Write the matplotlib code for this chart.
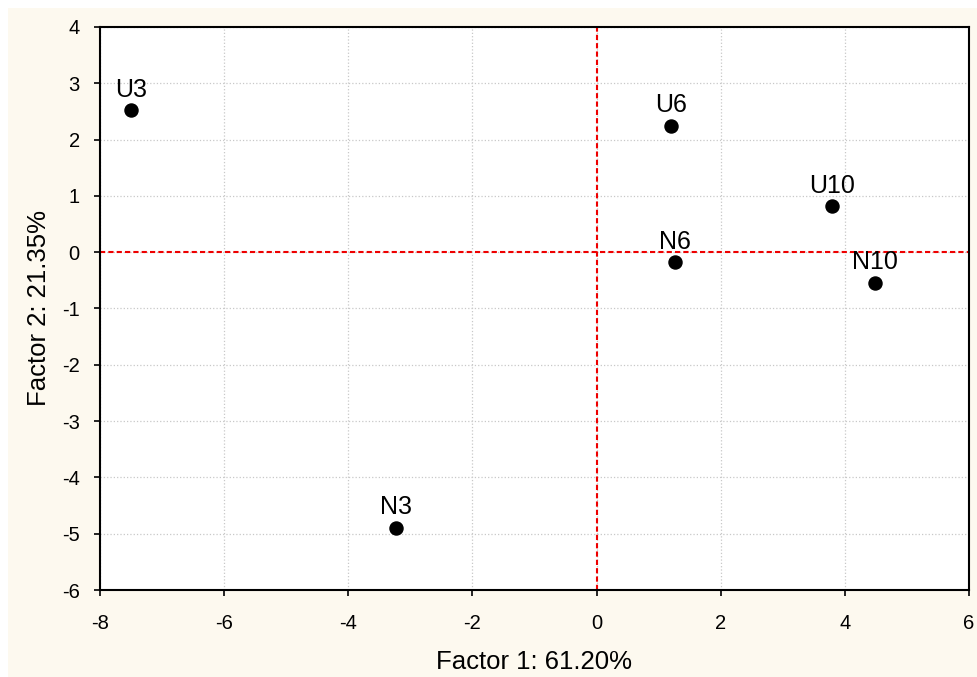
import matplotlib.pyplot as plt
from matplotlib.patches import Rectangle

plt.rcParams['font.family'] = ['Liberation Sans', 'DejaVu Sans']
plt.rcParams['axes.unicode_minus'] = False

# Sample scores on the first two factors
labels = ['U3', 'N3', 'U6', 'N6', 'U10', 'N10']
factor1 = [-7.50, -3.23, 1.20, 1.26, 3.80, 4.49]
factor2 = [2.53, -4.89, 2.25, -0.18, 0.82, -0.54]

x_ticks = [-8, -6, -4, -2, 0, 2, 4, 6]
y_ticks = [-6, -5, -4, -3, -2, -1, 0, 1, 2, 3, 4]

fig = plt.figure(figsize=(9.77, 6.77), dpi=100)
fig.patch.set_facecolor('white')
fig.patches.append(Rectangle((8 / 977, 0), 1, 1 - 8 / 677, transform=fig.transFigure,
                             facecolor='#FDF9EF', edgecolor='none', zorder=-10))

ax = fig.add_axes([100 / 977, 1 - 590 / 677, 869 / 977, 563 / 677])
ax.set_facecolor('white')

ax.set_xlim(-8, 6)
ax.set_ylim(-6, 4)
ax.set_xticks(x_ticks)
ax.set_yticks(y_ticks)
ax.grid(True, color='#c8c8c8', linestyle=':', linewidth=0.9, zorder=0)
ax.set_axisbelow(True)

# Origin lines
ax.axvline(0, color='#ee0000', linewidth=1.5, dashes=(2.5, 1.5), zorder=2)
ax.axhline(0, color='#ee0000', linewidth=1.5, dashes=(2.5, 1.5), zorder=2)

ax.plot(factor1, factor2, 'o', color='black', markersize=9.4, zorder=3)
for name, x, y in zip(labels, factor1, factor2):
    ax.annotate(name, (x, y), xytext=(0, 9.5), textcoords='offset points',
                ha='center', va='baseline', fontsize=18, zorder=4)

for sp in ax.spines.values():
    sp.set_linewidth(1.5)
ax.tick_params(direction='out', length=4.5, width=1.2, labelsize=14.5)
ax.tick_params(axis='x', pad=13)
ax.tick_params(axis='y', pad=10)

ax.set_xlabel('Factor 1: 61.20%', fontsize=18.5, labelpad=12)
ax.set_ylabel('Factor 2: 21.35%', fontsize=18.5, labelpad=8)

fig.savefig('out.png', dpi=100)
